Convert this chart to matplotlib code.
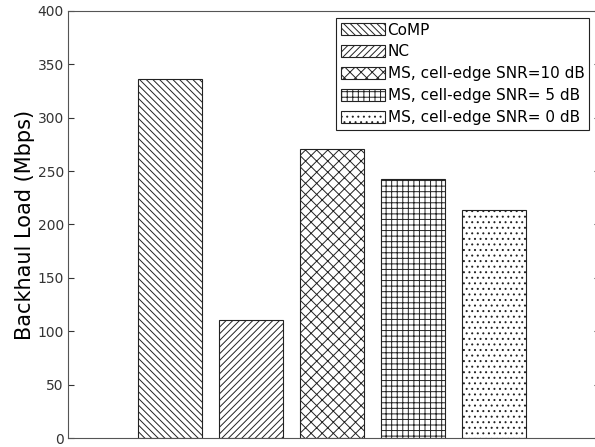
import matplotlib
matplotlib.use('Agg')
import matplotlib.pyplot as plt

plt.rcParams['font.family'] = ['DejaVu Sans']
plt.rcParams['hatch.linewidth'] = 0.7
plt.rcParams['hatch.color'] = '#444444'

# data
labels = ['CoMP', 'NC', 'MS, cell-edge SNR=10 dB', 'MS, cell-edge SNR= 5 dB', 'MS, cell-edge SNR= 0 dB']
loads = [336, 111, 271, 243, 214]
hatches = ['\\\\\\\\\\', '/////', 'xxx', '+++', '...']
yticks = [0, 50, 100, 150, 200, 250, 300, 350, 400]

fig = plt.figure(figsize=(5.95, 4.47), dpi=100)
ax = fig.add_axes([68/595, 9/447, 532/595, 427/447])

for i in range(len(loads)):
    ax.bar(i + 1, loads[i], width=0.8, color='white', edgecolor='#222222',
           hatch=hatches[i], linewidth=0.8, label=labels[i])

ax.set_xlim(-0.26, 6.31)
ax.set_ylim(0, 400)
ax.set_yticks(yticks)
ax.set_xticks([])
ax.tick_params(axis='y', direction='in', right=True, labelsize=10, length=4, colors='#333333', pad=3)
for s in ax.spines.values():
    s.set_color('#555555')
    s.set_linewidth(0.8)
ax.set_ylabel('Backhaul Load (Mbps)', fontsize=15, labelpad=2)

leg = ax.legend(loc='upper right', bbox_to_anchor=(589/595, 1 - 18/447),
                bbox_transform=fig.transFigure, fontsize=11, fancybox=False,
                framealpha=1, edgecolor='#222222', handlelength=2.9, handleheight=0.85,
                handletextpad=0.15, labelspacing=0.45, borderpad=0.3, borderaxespad=0)
leg.get_frame().set_linewidth(0.8)

fig.savefig('out.png', dpi=100)
